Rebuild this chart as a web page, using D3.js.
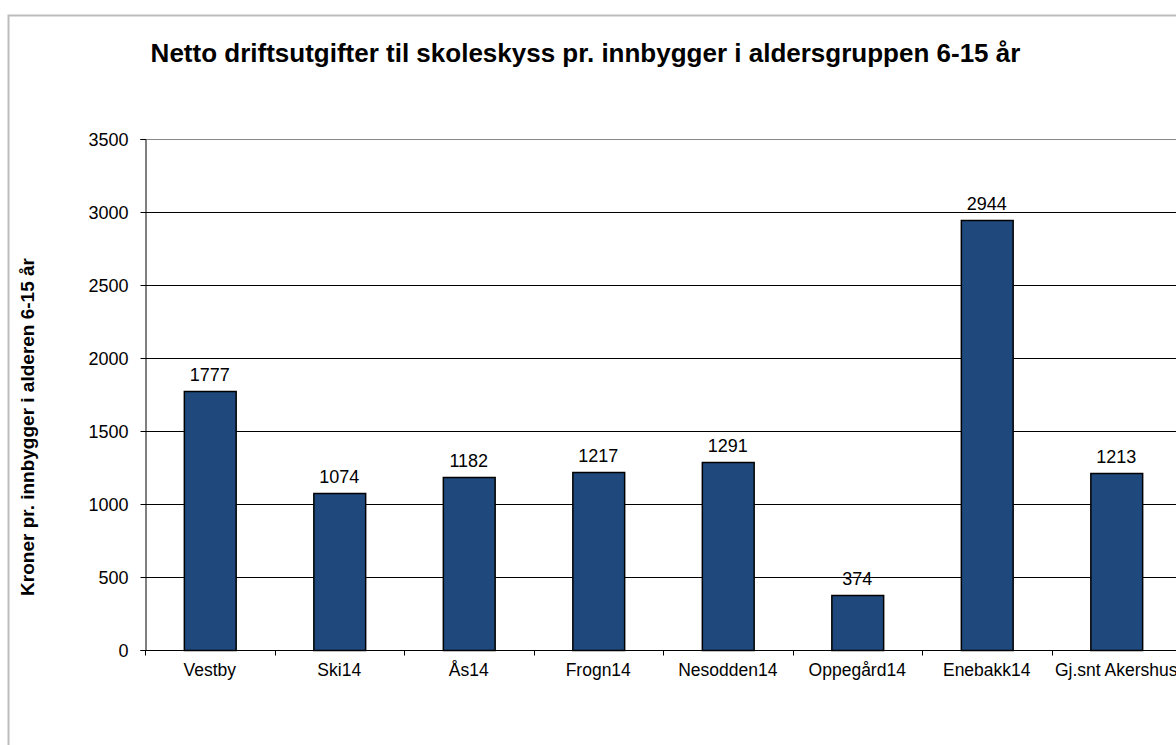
<!DOCTYPE html>
<html>
<head>
<meta charset="utf-8">
<script src="https://cdn.jsdelivr.net/npm/d3@7"></script>
<style>
html,body{margin:0;padding:0;background:#fff;}
svg{display:block;font-family:"Liberation Sans",Arial,sans-serif;}
</style>
</head>
<body>
<svg id="chart" width="1176" height="745"></svg>
<script>
const categories = ["Vestby","Ski14","Ås14","Frogn14","Nesodden14","Oppegård14","Enebakk14","Gj.snt Akershus"];
const values = [1777,1074,1182,1217,1291,374,2944,1213];
const yTicks = [0,500,1000,1500,2000,2500,3000,3500];
const title = "Netto driftsutgifter til skoleskyss pr. innbygger i aldersgruppen 6-15 år";
const yTitle = "Kroner pr. innbygger i alderen 6-15 år";

(function(){
const FONT = "Liberation Sans, Arial, sans-serif";
const svg = d3.select("#chart");
// outer chart border
svg.append("rect").attr("x",8.5).attr("y",15.5).attr("width",1200).attr("height",800)
  .attr("fill","#fff").attr("stroke","#bdbdbd").attr("stroke-width",2);

const pL=145, pR=1181, pT=139, pB=650;
const x = d3.scaleBand().domain(categories).range([pL,pR]).paddingInner(0.6).paddingOuter(0.3);
const xb = d3.scaleBand().domain(categories).range([pL,pR]);
const y = d3.scaleLinear().domain([0,3500]).range([pB,pT]);

// gridlines
svg.append("g").selectAll("line").data(yTicks.filter(d=>d>0)).join("line")
  .attr("x1",pL).attr("x2",pR)
  .attr("y1",d=>Math.round(y(d))+0.5).attr("y2",d=>Math.round(y(d))+0.5)
  .attr("stroke",d=>d===3500?"#888":"#000").attr("stroke-width",1);

// y axis
const yAxis = d3.axisLeft(y).tickValues(yTicks).tickSize(5).tickPadding(12).tickFormat(d3.format("d"));
const gy = svg.append("g").attr("transform",`translate(${pL+0.5},0)`).call(yAxis);
gy.attr("font-size",18).attr("font-family",FONT);
gy.select(".domain").attr("stroke","#000");
gy.selectAll(".tick line").attr("stroke","#000");
gy.selectAll("text").attr("fill","#000").attr("dy","0.36em");

// bars
svg.append("g").selectAll("rect").data(values).join("rect")
  .attr("x",(d,i)=>x(categories[i])+0.5)
  .attr("y",d=>Math.round(y(d))+0.5)
  .attr("width",x.bandwidth())
  .attr("height",d=>Math.round(y(0))-Math.round(y(d)))
  .attr("fill","#1f497d").attr("stroke","#000").attr("stroke-width",1.5);

// x axis
const gx = svg.append("g").attr("transform",`translate(0,${pB+0.5})`);
gx.append("line").attr("x1",pL).attr("x2",pR).attr("stroke","#000");
gx.selectAll("line.t").data(categories).join("line").attr("class","t")
  .attr("x1",d=>Math.round(xb(d))+0.5).attr("x2",d=>Math.round(xb(d))+0.5)
  .attr("y1",0).attr("y2",5).attr("stroke","#000");
gx.selectAll("text").data(categories).join("text")
  .attr("x",d=>xb(d)+xb.bandwidth()/2).attr("y",25)
  .attr("text-anchor","middle").attr("font-size",17.5).attr("font-family",FONT).attr("fill","#000").text(d=>d);

// value labels
svg.append("g").selectAll("text").data(values).join("text")
  .attr("x",(d,i)=>x(categories[i])+x.bandwidth()/2)
  .attr("y",d=>y(d)-10)
  .attr("text-anchor","middle").attr("font-size",18).attr("font-family",FONT).attr("fill","#000").text(d=>d);

// title
svg.append("text").attr("x",585.5).attr("y",62).attr("text-anchor","middle")
  .attr("font-size",26).attr("font-weight","bold").attr("font-family",FONT).attr("fill","#000").text(title);

// y title
svg.append("text").attr("transform",`translate(34,258) rotate(-90)`).attr("text-anchor","end")
  .attr("font-size",19).attr("font-weight","bold").attr("font-family",FONT).attr("fill","#000").text(yTitle);
})();
</script>
</body>
</html>
